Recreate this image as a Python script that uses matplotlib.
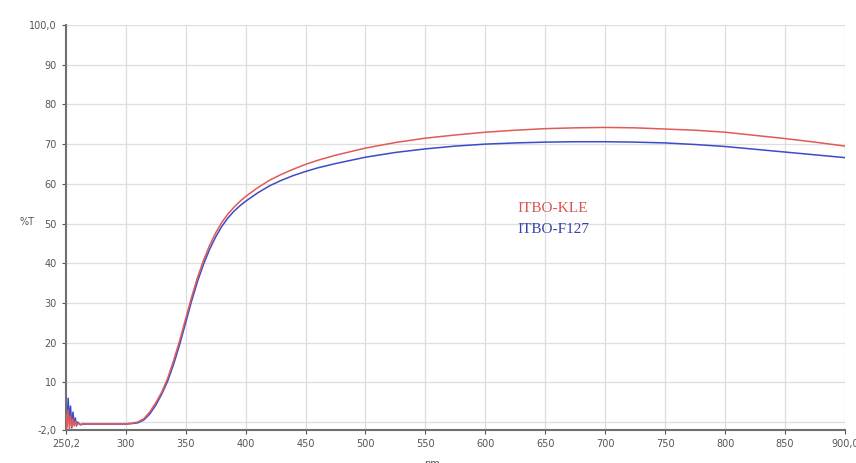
import numpy as np
import matplotlib
matplotlib.use('Agg')
import matplotlib.pyplot as plt

# wavelength grid (nm)
wl = [250.2, 251, 252, 253, 254, 255, 256, 257, 258, 259, 260, 262, 265, 270,
      280, 290, 300, 305, 310, 315, 320, 325, 330, 335, 340, 345, 350, 355,
      360, 365, 370, 375, 380, 385, 390, 395, 400, 410, 420, 430, 440, 450,
      460, 475, 500, 525, 550, 575, 600, 625, 650, 675, 700, 725, 750, 775,
      800, 825, 850, 875, 900]

# %T, ITBO-KLE
t_kle = [2.0, -1.5, 3.0, -1.8, 1.5, -1.2, 0.8, -1.0, 0.2, -0.8, -0.3, -0.6,
         -0.4, -0.5, -0.5, -0.5, -0.4, -0.3, 0.0, 0.8, 2.5, 4.8, 7.5, 11.0,
         15.5, 20.5, 26.0, 31.5, 36.5, 40.8, 44.5, 47.6, 50.2, 52.3, 54.0,
         55.5, 56.8, 59.0, 60.9, 62.4, 63.7, 64.9, 65.9, 67.2, 69.0, 70.4,
         71.5, 72.3, 73.0, 73.5, 73.9, 74.1, 74.2, 74.1, 73.8, 73.5, 73.0,
         72.2, 71.4, 70.5, 69.5]

# %T, ITBO-F127
t_f127 = [5.5, -1.0, 6.0, 0.5, 4.0, -1.5, 2.5, -0.5, 1.0, -1.0, 0.0, -0.7,
          -0.5, -0.5, -0.5, -0.5, -0.5, -0.4, -0.2, 0.5, 2.0, 4.2, 7.0, 10.3,
          14.6, 19.5, 25.0, 30.5, 35.5, 39.8, 43.5, 46.6, 49.2, 51.3, 53.0,
          54.4, 55.6, 57.7, 59.5, 60.9, 62.1, 63.1, 64.0, 65.1, 66.7, 67.9,
          68.8, 69.5, 70.0, 70.3, 70.5, 70.6, 70.6, 70.5, 70.3, 69.9, 69.4,
          68.7, 68.0, 67.3, 66.6]

xticks = [250.2, 300, 350, 400, 450, 500, 550, 600, 650, 700, 750, 800, 850, 900]
xlabels = ['250,2', '300', '350', '400', '450', '500', '550', '600', '650',
           '700', '750', '800', '850', '900,0']
yticks = [-2, 10, 20, 30, 40, 50, 60, 70, 80, 90, 100]
ylabels = ['-2,0', '10', '20', '30', '40', '50', '60', '70', '80', '90', '100,0']

fig = plt.figure(figsize=(8.56, 4.63), dpi=100)
ax = fig.add_axes([0.0771, 0.0713, 0.9100, 0.8747])

# grid
for x in range(300, 901, 50):
    ax.axvline(x, color='#dedede', lw=0.9, zorder=0)
for y in range(0, 101, 10):
    ax.axhline(y, color='#dedede', lw=0.9, zorder=0)

ax.plot(wl, t_f127, color='#3b4cc8', lw=1.1, zorder=2)
ax.plot(wl, t_kle, color='#e05a5a', lw=1.1, zorder=3)

ax.set_xlim(250.2, 900)
ax.set_ylim(-2, 100)
ax.set_xticks(xticks)
ax.set_xticklabels(xlabels)
ax.set_yticks(yticks)
ax.set_yticklabels(ylabels)
ax.tick_params(labelsize=7, colors='#555555', length=3, width=0.8)

for s in ['top', 'right']:
    ax.spines[s].set_visible(False)
for s in ['left', 'bottom']:
    ax.spines[s].set_color('#707070')
    ax.spines[s].set_linewidth(1.5)

ax.set_ylabel('%T', rotation=0, fontsize=7, color='#555555')
ax.yaxis.set_label_coords(-0.05, 0.5)
ax.set_xlabel('nm', fontsize=7, color='#555555')
ax.xaxis.set_label_coords(0.47, -0.072)

ax.text(627, 53, 'ITBO-KLE', color='#d85555', fontsize=11,
        family='Liberation Serif')
ax.text(627, 47.5, 'ITBO-F127', color='#3a42a8', fontsize=11,
        family='Liberation Serif')

plt.savefig('out.png', dpi=100)
